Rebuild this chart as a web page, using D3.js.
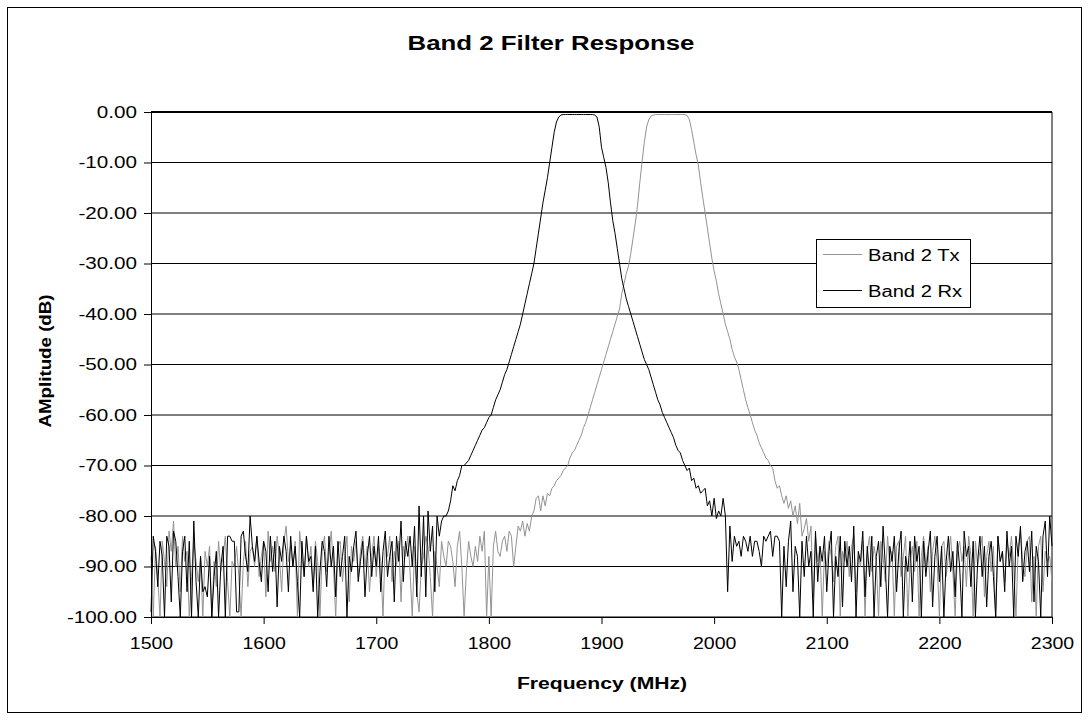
<!DOCTYPE html>
<html>
<head>
<meta charset="utf-8">
<script src="https://cdn.jsdelivr.net/npm/d3@7"></script>
<style>
  body { margin: 0; background: #fff; }
  text { font-family: "Liberation Sans", Arial, sans-serif; }
</style>
</head>
<body>
<script>
(function() {
	"use strict";
	// frequency grid: 1500..2300 MHz, 2 MHz step
	const FREQ_START = 1500, FREQ_STEP = 2;
	const X_TICKS = [1500, 1600, 1700, 1800, 1900, 2000, 2100, 2200, 2300];
	const Y_TICKS = [0, -10, -20, -30, -40, -50, -60, -70, -80, -90, -100];
	const SERIES_NAMES = ["Band 2 Tx", "Band 2 Rx"];

	const TX = [
	  -88,-100,-86,-92,-100,-85,-89,-94,-83,-87,-81,-90,-86,-95,-84,-89,-87,-100,-92,-85,
	  -89,-93,-88,-100,-87,-90,-86,-100,-89,-94,-85,-91,-88,-84,-93,-100,-89,-90,-86,-92,
	  -100,-89,-85,-94,-87,-86,-90,-84,-92,-88,-85,-96,-83,-89,-86,-91,-84,-88,-95,-85,
	  -82,-89,-86,-90,-85,-100,-83,-88,-92,-84,-90,-86,-94,-85,-89,-100,-87,-84,-91,-88,
	  -83,-90,-100,-86,-85,-93,-88,-84,-97,-86,-89,-85,-92,-87,-84,-90,-86,-95,-88,-84,
	  -92,-86,-89,-100,-85,-88,-84,-93,-87,-90,-85,-97,-86,-88,-84,-91,-100,-86,-95,-99,
	  -90,-88,-84,-86,-92,-100,-87,-90,-94,-85,-88,-90,-85,-86,-89,-94,-86,-83,-90,-100,
	  -91,-85,-88,-90,-86,-89,-84,-87,-83,-100,-88,-100,-86,-83,-87,-88,-85,-84,-87,-83,
	  -84,-90,-86,-82,-83,-81,-84,-81.5,-83,-80,-79,-76.5,-76,-79,-76,-78,-75.5,-76,-74.5,-74,
	  -73,-72.5,-72,-71,-70.5,-70,-68.5,-67.5,-67,-66,-65,-64,-62.5,-61.5,-60,-58.5,-57,-55.5,-54,-52.5,
	  -51,-49.5,-48,-46.5,-45,-43.5,-42,-40.5,-39,-36,-34,-32,-30.5,-28,-25,-22,-18.5,-14,-10,-6,
	  -3,-1.5,-0.8,-0.6,-0.5,-0.5,-0.5,-0.5,-0.5,-0.5,-0.5,-0.5,-0.5,-0.5,-0.5,-0.5,-0.5,-0.5,-0.7,-1.5,
	  -3.5,-6,-8.5,-10.5,-14,-17,-20,-23,-26,-29,-31.5,-33.5,-36,-38,-40,-42,-43.5,-45,-47,-48.5,
	  -49.5,-51,-53,-55,-57,-58.5,-60,-61.5,-63,-64,-65.5,-66.5,-67.5,-68.5,-69,-70,-70.5,-73,-74.5,-74,
	  -76,-77.5,-76,-78.5,-77,-80,-78,-81.5,-77.5,-84,-82.5,-80.5,-85,-82,-96,-84,-89,-86,-100,-87,
	  -90,-85,-88,-93,-86,-84,-100,-87,-89,-85,-92,-86,-84,-95,-88,-90,-85,-100,-87,-84,
	  -91,-86,-89,-100,-85,-88,-93,-84,-90,-87,-100,-86,-85,-92,-88,-84,-100,-89,-86,-91,
	  -85,-100,-88,-84,-90,-86,-95,-87,-84,-89,-100,-86,-85,-92,-88,-84,-91,-100,-87,-85,
	  -89,-86,-94,-84,-88,-100,-85,-90,-87,-84,-96,-88,-85,-91,-86,-100,-84,-89,-87,-93,
	  -85,-88,-84,-90,-100,-86,-83,-89,-92,-85,-84,-97,-88,-100,-86,-84,-95,-87,-89,-88,
	  -93
	];

	const RX = [
	  -99,-84,-87,-94,-85,-88,-100,-84,-86,-97,-83,-85,-92,-100,-87,-84,-95,-85,-100,-81,
	  -93,-100,-88,-95,-94,-96,-88,-100,-92,-87,-100,-90,-86,-100,-84,-84,-85,-85,-99,-99,
	  -84,-83,-88,-91,-80,-86,-89,-84,-89,-93,-85,-87,-95,-84,-91,-85,-98,-86,-89,-84,
	  -87,-95,-84,-90,-86,-93,-100,-85,-92,-84,-89,-88,-95,-86,-100,-91,-85,-87,-94,-84,
	  -90,-86,-96,-85,-92,-88,-84,-100,-88,-91,-86,-83,-93,-89,-85,-96,-88,-84,-92,-86,
	  -90,-84,-95,-87,-83,-92,-88,-85,-97,-84,-89,-81,-93,-85,-88,-84,-90,-82,-96,-78,
	  -92,-80,-96,-79,-87,-82,-95,-80,-84,-81,-80,-80,-79,-77,-74,-75,-73,-72,-70,-70,
	  -69.5,-69,-68,-67,-66,-65,-64,-63,-62.5,-61.5,-60.5,-60,-58.5,-57,-56,-55,-53.5,-52,-51,-49.5,
	  -48,-46.5,-45,-43.5,-42,-40,-38,-36,-34,-32,-30,-27,-24,-21,-18,-15.5,-13,-10,-7,-4,
	  -2,-1,-0.6,-0.5,-0.5,-0.5,-0.5,-0.5,-0.5,-0.5,-0.5,-0.5,-0.5,-0.5,-0.5,-0.5,-0.5,-0.6,-1,-3,
	  -7,-9,-11,-14,-18,-21.5,-24,-27,-30,-33,-35,-37,-38.5,-40,-41.5,-43,-44.5,-46,-47.5,-49,
	  -50,-51,-52.5,-54,-55.5,-57,-58,-59.5,-60.5,-61.5,-62.5,-63.5,-64.5,-66,-67,-67.5,-69,-70,-71,-70.5,
	  -73,-72.5,-74.5,-74,-75.5,-75,-74.5,-78,-77,-80,-76.5,-80.5,-79,-80,-76.5,-80,-95,-82,-89,-84,
	  -86,-85,-88,-84,-85,-87,-84,-88,-85,-85,-87,-90,-84,-85,-84,-83,-88,-84,-84,-85,
	  -100,-86,-94,-85,-81,-95,-86,-88,-100,-85,-92,-84,-90,-87,-100,-83,-93,-86,-89,-84,
	  -95,-87,-83,-100,-88,-92,-84,-98,-85,-90,-86,-93,-82,-100,-87,-89,-83,-96,-86,-92,
	  -84,-100,-88,-85,-94,-82,-90,-100,-86,-89,-84,-95,-87,-83,-100,-88,-91,-85,-97,-84,
	  -89,-86,-100,-85,-92,-87,-83,-98,-88,-84,-93,-86,-100,-89,-84,-91,-87,-96,-85,-90,
	  -100,-83,-88,-86,-94,-85,-100,-89,-84,-92,-86,-98,-88,-85,-92,-100,-84,-89,-87,-95,
	  -83,-90,-86,-100,-84,-88,-82,-93,-87,-85,-91,-83,-97,-86,-89,-100,-84,-81,-92,-80,
	  -86
	];

	const W = 1089, H = 721;
	const plot = {left: 151, right: 1052, top: 112, bottom: 617};
	const XSTRETCH = 1.29, YSTRETCH = 1.17;

	// the original picture is wider than it is tall: text glyphs get pulled sideways
	function stretch(sel, f) {
		sel.each(function() {
			const l = this.getComputedTextLength();
			d3.select(this).attr("textLength", l * f).attr("lengthAdjust", "spacingAndGlyphs");
		});
	}

	const svg = d3.select("body").append("svg").attr("width", W).attr("height", H);

	svg.append("rect").attr("x", 7.5).attr("y", 7.5).attr("width", 1074).attr("height", 705)
	  .attr("fill", "#fff").attr("stroke", "#000").attr("stroke-width", 1);

	const x = d3.scaleLinear().domain([1500, 2300]).range([plot.left, plot.right]);
	const y = d3.scaleLinear().domain([-100, 0]).range([plot.bottom, plot.top]);

	// gridlines
	svg.append("g").selectAll("line").data(Y_TICKS).enter().append("line")
	  .attr("x1", plot.left).attr("x2", plot.right)
	  .attr("y1", d => y(d)).attr("y2", d => y(d))
	  .attr("stroke", "#000").attr("stroke-width", 1);

	svg.append("line").attr("x1", plot.right).attr("x2", plot.right)
	  .attr("y1", plot.top).attr("y2", plot.bottom).attr("stroke", "#000");
	svg.append("line").attr("x1", plot.left).attr("x2", plot.right)
	  .attr("y1", plot.top).attr("y2", plot.top).attr("stroke", "#000").attr("stroke-width", 2);

	const line = d3.line()
	  .x((d, i) => x(FREQ_START + i * FREQ_STEP))
	  .y(d => y(d));

	svg.append("path").datum(TX).attr("d", line)
	  .attr("fill", "none").attr("stroke", "#939393").attr("stroke-width", 1);
	svg.append("path").datum(RX).attr("d", line)
	  .attr("fill", "none").attr("stroke", "#000").attr("stroke-width", 1);

	// axes
	const fmt = d3.format(".2f");
	const yAxis = svg.append("g").attr("transform", "translate(" + plot.left + ",0)")
	  .call(d3.axisLeft(y).tickValues(Y_TICKS).tickFormat(d => fmt(d).replace("\u2212", "-"))
	    .tickSize(7).tickPadding(7));
	const xAxis = svg.append("g").attr("transform", "translate(0," + plot.bottom + ")")
	  .call(d3.axisBottom(x).tickValues(X_TICKS).tickFormat(d3.format("d")).tickSize(7).tickPadding(14));
	[yAxis, xAxis].forEach(a => {
		a.select(".domain").attr("stroke", "#000");
		a.selectAll(".tick line").attr("stroke", "#000");
		a.selectAll("text").attr("font-size", 16).attr("fill", "#000")
		  .attr("font-family", "'Liberation Sans', Arial, sans-serif");
	});
	stretch(yAxis.selectAll("text"), XSTRETCH);
	stretch(xAxis.selectAll("text"), 1.22);

	svg.append("text").attr("x", 551).attr("y", 50).attr("text-anchor", "middle")
	  .attr("font-size", 20).attr("font-weight", "bold").text("Band 2 Filter Response")
	  .call(stretch, XSTRETCH);
	svg.append("text").attr("x", 602).attr("y", 689).attr("text-anchor", "middle")
	  .attr("font-size", 16).attr("font-weight", "bold").text("Frequency (MHz)")
	  .call(stretch, 1.32);
	svg.append("text").attr("transform", "translate(51,361) rotate(-90)").attr("text-anchor", "middle")
	  .attr("font-size", 16).attr("font-weight", "bold").text("AMplitude (dB)")
	  .call(stretch, YSTRETCH);

	// legend
	const lg = svg.append("g").attr("transform", "translate(816,239)");
	lg.append("rect").attr("x", 0.5).attr("y", 0.5).attr("width", 154).attr("height", 68)
	  .attr("fill", "#fff").attr("stroke", "#000");
	const colors = ["#939393", "#000"];
	const items = lg.selectAll("g.item").data(SERIES_NAMES).enter().append("g")
	  .attr("transform", (d, i) => "translate(0," + (15.5 + i * 36) + ")");
	items.append("line").attr("x1", 7).attr("x2", 46).attr("y1", 0).attr("y2", 0)
	  .attr("stroke", (d, i) => colors[i]);
	items.append("text").attr("x", 52).attr("y", 6).attr("font-size", 16).text(d => d)
	  .call(stretch, 1.26);
}());
</script>
</body>
</html>
